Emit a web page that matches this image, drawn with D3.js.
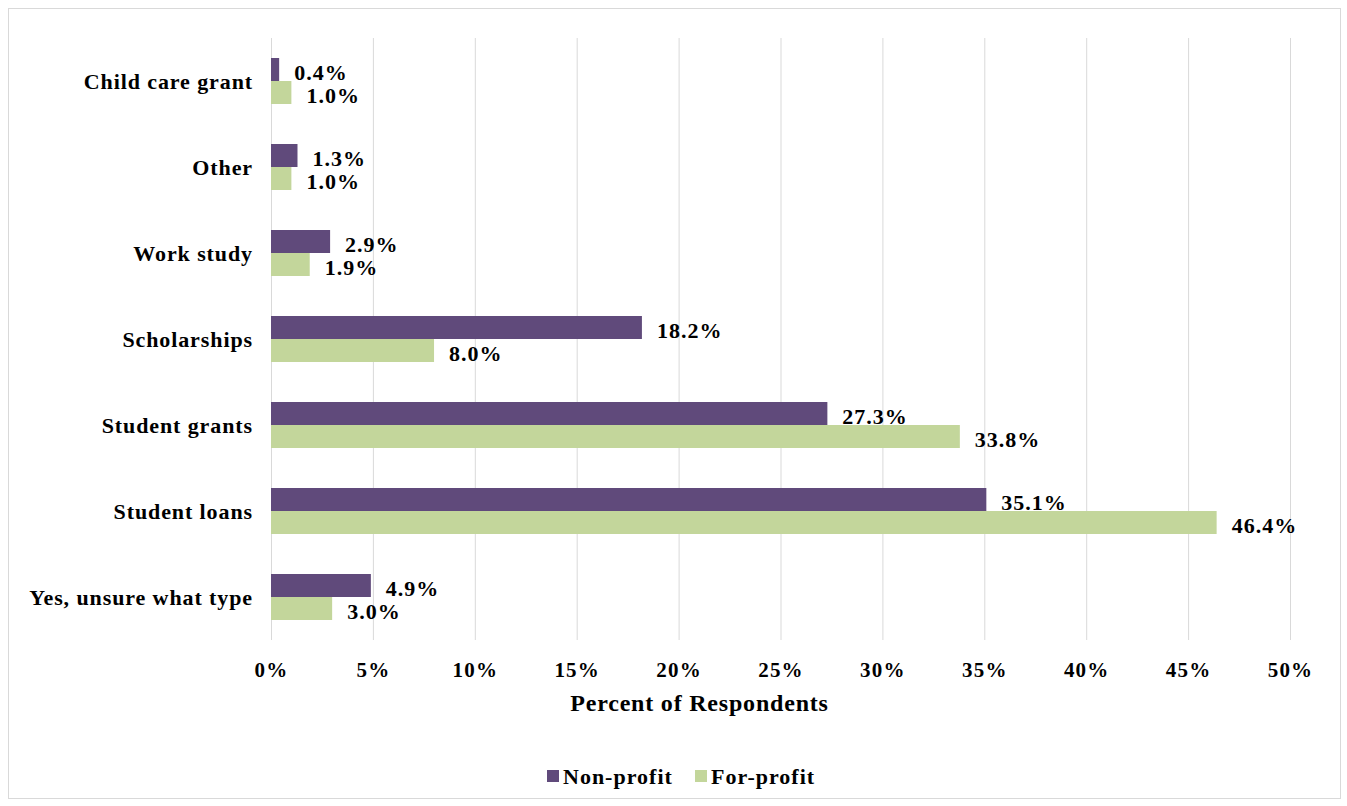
<!DOCTYPE html>
<html>
<head>
<meta charset="utf-8">
<script src="https://cdn.jsdelivr.net/npm/d3@7"></script>
<style>
  body { margin: 0; background: #fff; }
  svg text { font-family: "Liberation Serif", "Times New Roman", serif; font-weight: bold; fill: #000; }
</style>
</head>
<body>
<svg id="chart" width="1347" height="806"></svg>
<script>
(function() {
    // data, top to bottom as drawn
    var categories = ["Child care grant", "Other", "Work study", "Scholarships",
                      "Student grants", "Student loans", "Yes, unsure what type"];
    var nonProfit = [0.4, 1.3, 2.9, 18.2, 27.3, 35.1, 4.9];
    var forProfit = [1.0, 1.0, 1.9, 8.0, 33.8, 46.4, 3.0];
    var seriesNames = ["Non-profit", "For-profit"];
    var tickValues = [0, 5, 10, 15, 20, 25, 30, 35, 40, 45, 50];

    var colors = ["#604a7b", "#c3d69b"];

    var svg = d3.select("#chart");
    var margin = {top: 38, left: 271, bottom: 166, right: 57},
        width = 1347, height = 806;

    // outer frame
    svg.append("rect")
        .attr("x", 8.5).attr("y", 8.5)
        .attr("width", 1332).attr("height", 790)
        .attr("fill", "#fff")
        .attr("stroke", "#d9d9d9");

    var x = d3.scaleLinear()
        .domain([0, 50])
        .range([margin.left, width - margin.right]);

    var y = d3.scaleBand()
        .domain(categories)
        .range([margin.top, height - margin.bottom]);

    var inner = d3.scaleBand()
        .domain(seriesNames)
        .range([20, y.bandwidth() - 20]);

    // gridlines
    svg.append("g")
        .selectAll("line")
        .data(tickValues)
        .enter().append("line")
        .attr("x1", d => x(d) + 0.5).attr("x2", d => x(d) + 0.5)
        .attr("y1", margin.top).attr("y2", height - margin.bottom)
        .attr("stroke", "#d9d9d9")
        .attr("stroke-width", 1);

    var rows = categories.map(function(c, i) {
        return {cat: c, values: [nonProfit[i], forProfit[i]]};
    });

    var group = svg.selectAll("g.row")
        .data(rows)
        .enter().append("g")
        .attr("class", "row")
        .attr("transform", d => "translate(0," + y(d.cat) + ")");

    group.selectAll("rect")
        .data(d => d.values.map((v, j) => ({key: seriesNames[j], value: v, j: j})))
        .enter().append("rect")
        .attr("x", x(0))
        .attr("y", d => inner(d.key))
        .attr("width", d => x(d.value) - x(0))
        .attr("height", inner.bandwidth())
        .attr("fill", d => colors[d.j]);

    group.selectAll("text.val")
        .data(d => d.values.map((v, j) => ({key: seriesNames[j], value: v, j: j})))
        .enter().append("text")
        .attr("class", "val")
        .attr("x", d => x(d.value) + 15)
        .attr("y", d => inner(d.key) + inner.bandwidth() / 2 + 3)
        .attr("dy", "0.35em")
        .style("font-size", "22px")
        .style("letter-spacing", "1px")
        .text(d => d.value.toFixed(1) + "%");

    // category labels
    svg.append("g")
        .selectAll("text")
        .data(categories)
        .enter().append("text")
        .attr("x", margin.left - 18)
        .attr("y", d => y(d) + y.bandwidth() / 2)
        .attr("dy", "0.35em")
        .attr("text-anchor", "end")
        .style("font-size", "22px")
        .style("letter-spacing", "0.9px")
        .text(d => d);

    // x axis tick labels
    var xAxis = svg.append("g")
        .attr("transform", "translate(0," + (height - margin.bottom) + ")")
        .call(d3.axisBottom(x).tickValues(tickValues).tickSize(0).tickPadding(22)
            .tickFormat(d => d + "%"));
    xAxis.select(".domain").remove();
    xAxis.selectAll("text")
        .style("font-size", "21px")
        .style("letter-spacing", "1.2px")
        .style("font-family", "'Liberation Serif', serif")
        .style("font-weight", "bold")
        .attr("fill", "#000");

    svg.append("text")
        .attr("x", (x(0) + x(50)) / 2 - 81)
        .attr("y", 711)
        .attr("text-anchor", "middle")
        .style("font-size", "24px")
        .style("letter-spacing", "0.8px")
        .text("Percent of Respondents");

    // legend
    var legendX = [547, 695];
    var legend = svg.selectAll(".legend")
        .data(seriesNames)
        .enter().append("g")
        .attr("class", "legend")
        .attr("transform", (d, i) => "translate(" + legendX[i] + ",770)");

    legend.append("rect")
        .attr("width", 12).attr("height", 12)
        .attr("fill", (d, i) => colors[i]);

    legend.append("text")
        .attr("x", 16)
        .attr("y", 6)
        .attr("dy", "0.35em")
        .style("font-size", "22px")
        .style("letter-spacing", "1px")
        .text(d => d);
})();
</script>
</body>
</html>
